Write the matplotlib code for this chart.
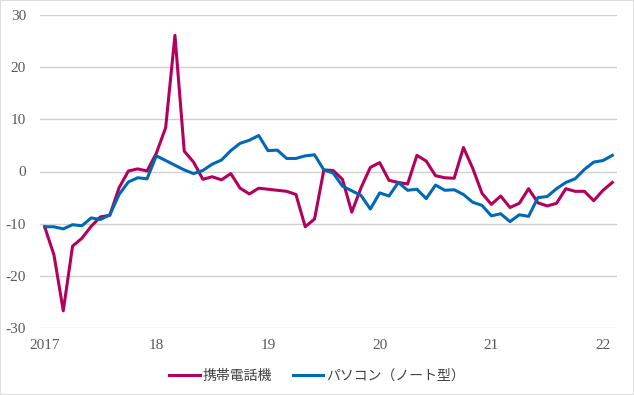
import numpy as np
import matplotlib
matplotlib.use('Agg')
import matplotlib.pyplot as plt

plt.rcParams['axes.unicode_minus'] = False

# monthly change, Jan 2017 - Feb 2022
phone = [-10.6, -16.0, -26.7, -14.3, -12.8, -10.5, -8.7, -8.4, -3.1, 0.1, 0.5, 0.1,
         3.5, 8.4, 26.1, 3.9, 1.8, -1.5, -1.0, -1.6, -0.4, -3.2, -4.3, -3.2,
         -3.4, -3.6, -3.8, -4.4, -10.6, -9.1, 0.3, 0.2, -1.5, -7.8, -3.1, 0.8,
         1.7, -1.7, -2.1, -2.4, 3.1, 2.0, -0.8, -1.2, -1.3, 4.6, 0.6, -4.2,
         -6.3, -4.7, -6.9, -6.1, -3.3, -6.0, -6.6, -6.1, -3.3, -3.8, -3.8, -5.6,
         -3.6, -2.1]
laptop = [-10.6, -10.6, -11.0, -10.2, -10.4, -8.9, -9.2, -8.3, -4.4, -2.0, -1.2, -1.4,
          3.0, 2.1, 1.2, 0.3, -0.4, 0.2, 1.4, 2.2, 4.0, 5.4, 6.0, 6.9,
          4.0, 4.1, 2.5, 2.5, 3.0, 3.2, 0.3, -0.3, -2.8, -3.7, -4.6, -7.2,
          -4.1, -4.7, -2.1, -3.6, -3.4, -5.2, -2.6, -3.6, -3.5, -4.4, -5.9, -6.5,
          -8.5, -8.1, -9.6, -8.3, -8.6, -5.0, -4.8, -3.3, -2.1, -1.4, 0.4, 1.8,
          2.1, 3.1]
year_labels = ['2017', '18', '19', '20', '21', '22']
series_names = ['携帯電話機', 'パソコン（ノート型）']

x = np.arange(len(phone))

fig = plt.figure(figsize=(6.34, 3.95), dpi=100)
fig.patch.set_edgecolor('#dedede')
fig.patch.set_linewidth(1.2)
ax = fig.add_axes([40/634, 67/395, 577/634, 313/395])

ax.plot(x, phone, color='#B4005C', lw=2.2, label=series_names[0])
ax.plot(x, laptop, color='#0068B5', lw=2.2, label=series_names[1])

ax.set_xlim(-0.5, len(phone) - 0.5)
ax.set_ylim(-30, 30)
ax.set_yticks(np.arange(-30, 31, 10))
ax.set_xticks(np.arange(0, len(phone), 12))
ax.set_xticklabels(year_labels)
ax.yaxis.grid(True, color='#d0d0d0', lw=1)
ax.set_axisbelow(True)
for s in ax.spines.values():
    s.set_visible(False)
ax.tick_params(length=0, colors='#595959', labelsize=10)
ax.tick_params(axis='y', pad=10)
ax.tick_params(axis='x', pad=8)
for lab in ax.get_xticklabels() + ax.get_yticklabels():
    lab.set_family('Liberation Serif')
    lab.set_fontsize(11)

leg = fig.legend(loc='center', bbox_to_anchor=(0.5, 1 - 376/395), ncol=2, frameon=False,
                 prop={'family': ['Noto Sans CJK JP', 'DejaVu Sans'], 'size': 10},
                 handlelength=2.2, handletextpad=0.2, columnspacing=1.5)
for t in leg.get_texts():
    t.set_color('#404040')

fig.savefig('out.png', dpi=100)
